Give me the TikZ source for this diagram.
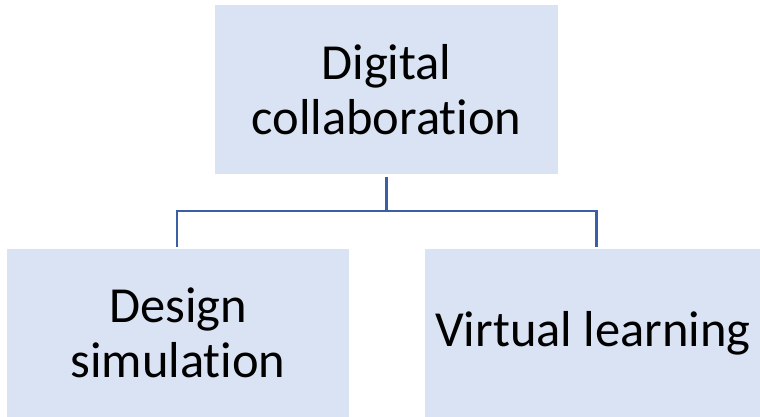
\documentclass[tikz,border=0pt]{standalone}
\usepackage{fontspec}
\setmainfont{Carlito}[Ligatures=NoCommon]
\definecolor{boxfill}{RGB}{218,227,243}
\definecolor{linkcol}{RGB}{59,95,165}
\tikzset{
  orgbox/.style={fill=boxfill, draw=none, inner sep=0pt, align=center,
    font=\fontsize{50.5pt}{55pt}\selectfont},
  link/.style={draw=linkcol, line width=2.4pt}
}
\begin{document}
\begin{tikzpicture}[x=1pt,y=-1pt]
\useasboundingbox (0,0) rectangle (760,417);
\node[orgbox, minimum width=343pt, minimum height=169pt] (top) at (386.5,89.5) {Digital\\collaboration};
\node[orgbox, minimum width=342pt, minimum height=168pt] (left) at (178,333) {Design\\simulation};
\node[orgbox, minimum width=336pt, minimum height=168pt] (right) at (593,333) {Virtual learning};
\coordinate (mid) at (386.5,211);
\coordinate (lt) at (177,249);
\coordinate (rt) at (596.5,249);
\draw[link, shorten <=3pt] (top.south) -- (mid);
\draw[link, shorten >=2pt] (mid) -| (lt);
\draw[link, shorten >=2pt] (mid) -| (rt);
\end{tikzpicture}
\end{document}
